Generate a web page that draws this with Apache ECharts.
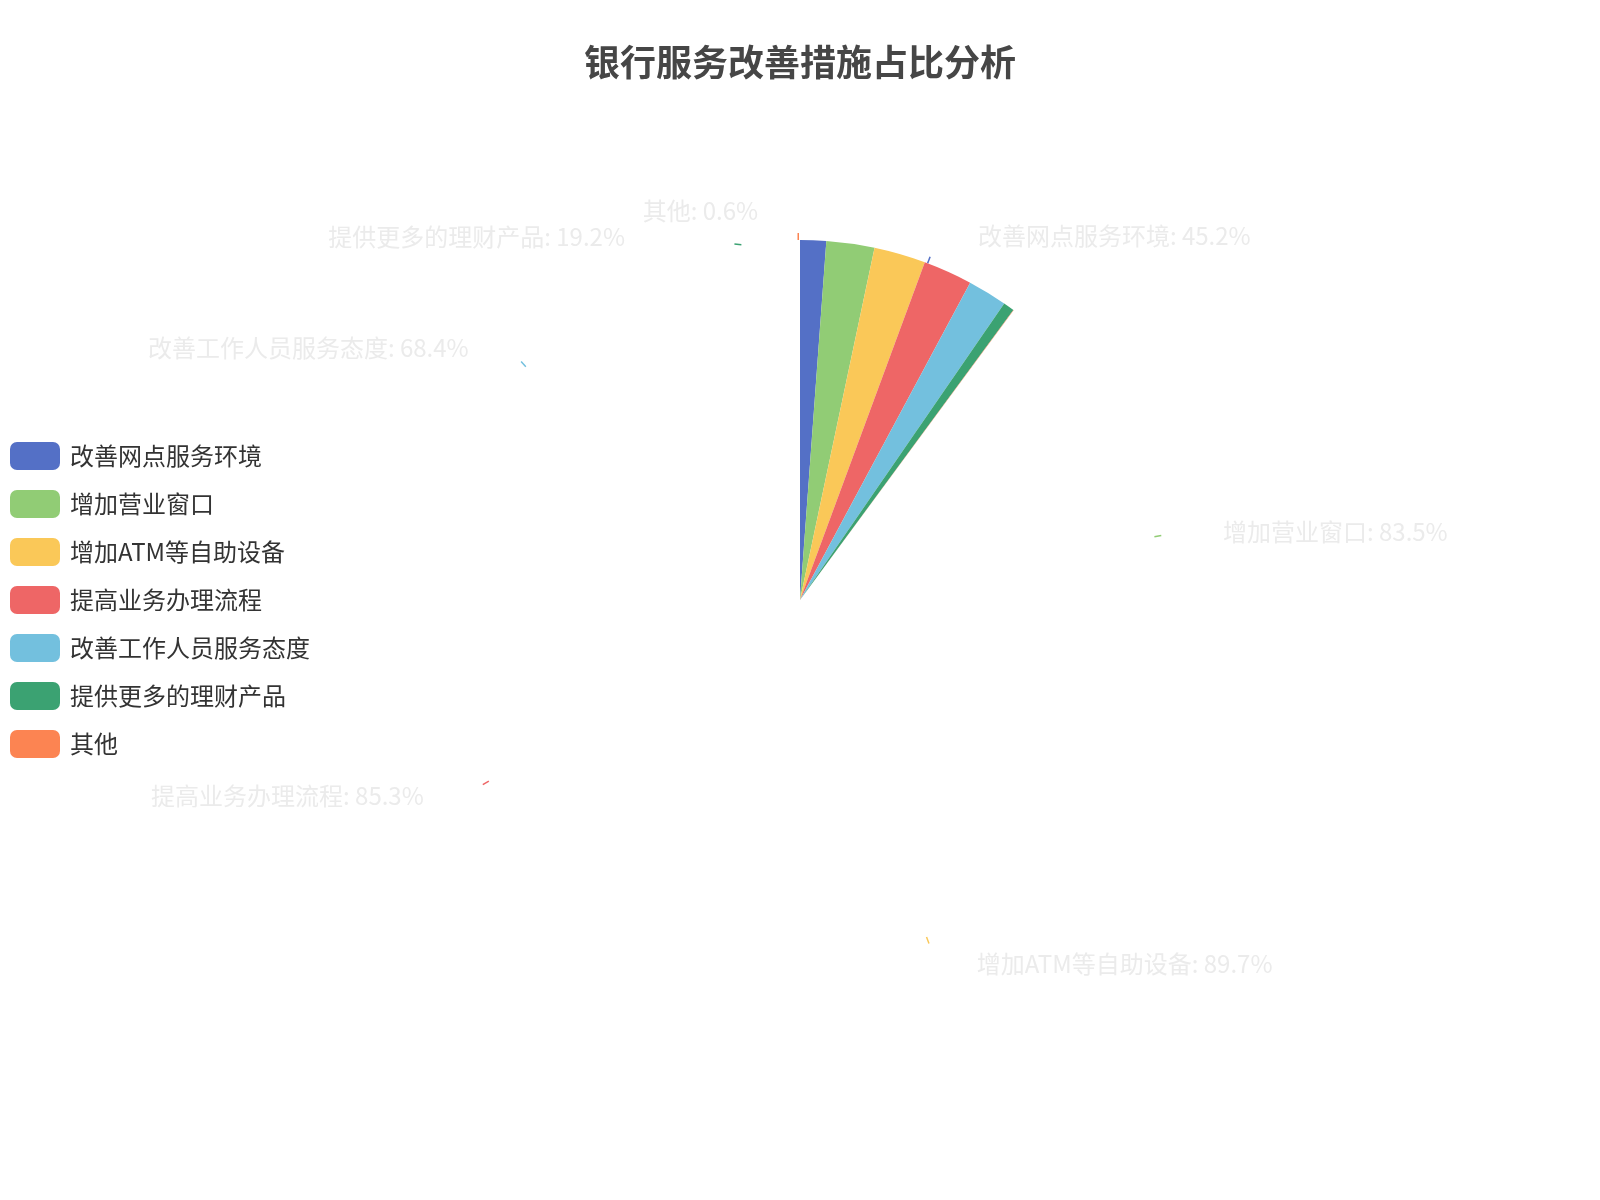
<!DOCTYPE html>
<html>
<head>
<meta charset="utf-8">
<script src="https://cdn.jsdelivr.net/npm/echarts@6/dist/echarts.min.js"></script>
<style>html,body{margin:0;padding:0;background:#fff}#main{width:1600px;height:1200px}</style>
</head>
<body>
<div id="main"></div>
<script>
var titleText = '银行服务改善措施占比分析';
var categories = ['改善网点服务环境', '增加营业窗口', '增加ATM等自助设备', '提高业务办理流程', '改善工作人员服务态度', '提供更多的理财产品', '其他'];
var values = [45.2, 83.5, 89.7, 85.3, 68.4, 19.2, 0.6];
var colors = ['#5470c6', '#91cc75', '#fac858', '#ee6666', '#73c0de', '#3ba272', '#fc8452'];

var pieData = categories.map(function (c, i) { return { name: c, value: values[i] }; });
var font = 'Noto Sans CJK SC';
var chart = echarts.init(document.getElementById('main'));
chart.setOption({
  animation: false,
  color: colors,
  title: {
    text: titleText, left: 'center', top: 39,
    textStyle: { fontFamily: font, fontSize: 36, fontWeight: 'bold', color: '#464646' }
  },
  legend: {
    orient: 'vertical', left: 5, top: 'middle',
    icon: 'roundRect', itemWidth: 50, itemHeight: 28, itemGap: 20,
    textStyle: { fontFamily: font, fontSize: 24, color: '#333', padding: [0, 0, 4, 5] },
    data: categories
  },
  series: [
    {
      type: 'pie', center: ['50%', '50%'], radius: '60%',
      startAngle: 90, endAngle: 53.6, clockwise: true,
      label: { show: false }, labelLine: { show: false },
      silent: true,
      data: pieData
    },
    {
      type: 'pie', center: ['50%', '50%'], radius: '60%',
      startAngle: 90, clockwise: true,
      itemStyle: { opacity: 0 },
      label: {
        show: true, formatter: '{b}: {c}%', fontFamily: font, fontSize: 24,
        color: '#ebebeb', opacity: 1, padding: [0, 0, 4, 0]
      },
      labelLine: {
        show: true, length: 29, length2: 35,
        lineStyle: { width: 1.5, opacity: 1, type: [7, 3000] }
      },
      silent: true,
      data: pieData
    }
  ]
});
</script>
</body>
</html>
